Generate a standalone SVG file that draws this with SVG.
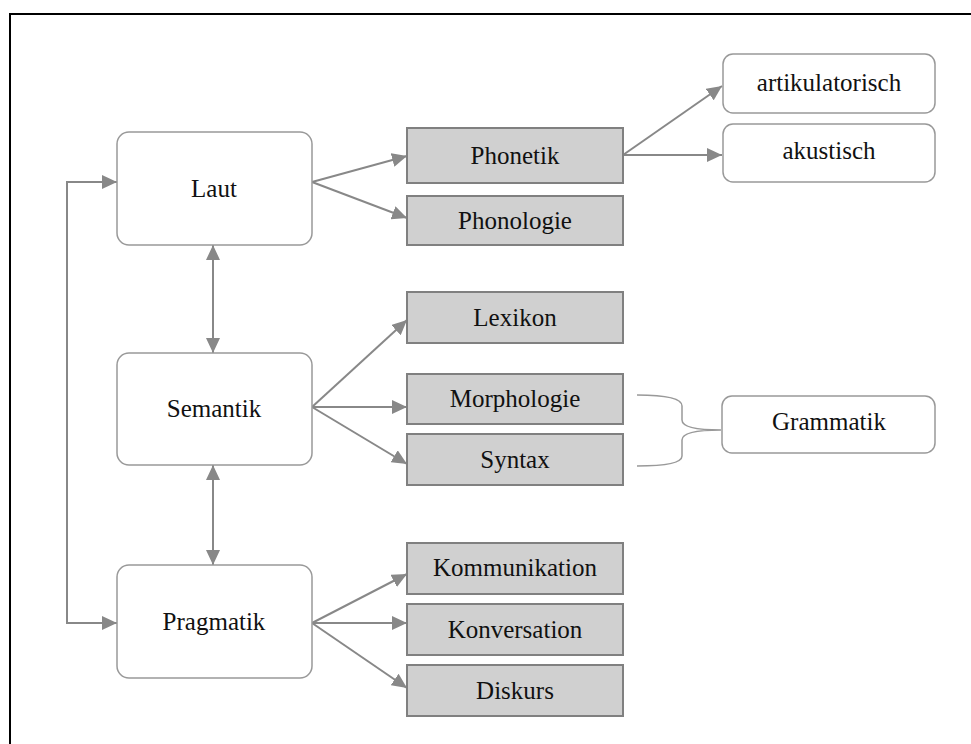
<svg xmlns="http://www.w3.org/2000/svg" width="971" height="744" viewBox="0 0 971 744">
<style>
.bg{fill:#ffffff}
.frame{fill:none;stroke:#000;stroke-width:2}
.main{fill:#fff;stroke:#999;stroke-width:1.5}
.sub{fill:#d0d0d0;stroke:#808080;stroke-width:2}
.leaf{fill:#fff;stroke:#999;stroke-width:1.5}
text{font-family:"Liberation Serif","DejaVu Serif",serif;font-size:25px;fill:#111;text-anchor:middle}
.c{fill:none;stroke:#888;stroke-width:2}
.br{fill:none;stroke:#999;stroke-width:1.5}
</style>
<defs>
<marker id="ah" markerUnits="userSpaceOnUse" markerWidth="16" markerHeight="14" refX="15" refY="7" orient="auto-start-reverse">
<path d="M0,0 L15,7 L0,14 Z" fill="#888"/>
</marker>
</defs>
<rect class="bg" x="0" y="0" width="971" height="744"/>
<rect class="frame" x="10" y="14" width="990" height="800"/>

<g id="connectors">
<line class="c" x1="312" y1="182" x2="407" y2="156" marker-end="url(#ah)"/>
<line class="c" x1="312" y1="182" x2="407" y2="218" marker-end="url(#ah)"/>
<line class="c" x1="623" y1="155" x2="722" y2="86" marker-end="url(#ah)"/>
<line class="c" x1="623" y1="155" x2="722" y2="155" marker-end="url(#ah)"/>
<line class="c" x1="312" y1="407" x2="407" y2="320" marker-end="url(#ah)"/>
<line class="c" x1="312" y1="407" x2="407" y2="407" marker-end="url(#ah)"/>
<line class="c" x1="312" y1="407" x2="407" y2="464" marker-end="url(#ah)"/>
<line class="c" x1="312" y1="623" x2="407" y2="574" marker-end="url(#ah)"/>
<line class="c" x1="312" y1="623" x2="407" y2="623" marker-end="url(#ah)"/>
<line class="c" x1="312" y1="623" x2="407" y2="688" marker-end="url(#ah)"/>
<line class="c" x1="213" y1="245" x2="213" y2="353" marker-start="url(#ah)" marker-end="url(#ah)"/>
<line class="c" x1="213" y1="465" x2="213" y2="565" marker-start="url(#ah)" marker-end="url(#ah)"/>
<polyline class="c" points="117,623 67,623 67,182 117,182" marker-start="url(#ah)" marker-end="url(#ah)"/>
<path class="br" d="M637,395 Q682,395 682,406 L682,420 Q682,430 721,430 Q682,430 682,440 L682,456 Q682,466 637,466"/>
</g>

<g id="laut"><rect class="main" x="117" y="132" width="195" height="113" rx="12"/><text x="214" y="197">Laut</text></g>
<g id="semantik"><rect class="main" x="117" y="353" width="195" height="112" rx="12"/><text x="214" y="417">Semantik</text></g>
<g id="pragmatik"><rect class="main" x="117" y="565" width="195" height="113" rx="12"/><text x="214" y="630">Pragmatik</text></g>

<g id="phonetik"><rect class="sub" x="407" y="128" width="216" height="55"/><text x="515" y="164">Phonetik</text></g>
<g id="phonologie"><rect class="sub" x="407" y="196" width="216" height="49"/><text x="515" y="229">Phonologie</text></g>
<g id="lexikon"><rect class="sub" x="407" y="292" width="216" height="51"/><text x="515" y="326">Lexikon</text></g>
<g id="morphologie"><rect class="sub" x="407" y="374" width="216" height="50"/><text x="515" y="407">Morphologie</text></g>
<g id="syntax"><rect class="sub" x="407" y="434" width="216" height="51"/><text x="515" y="468">Syntax</text></g>
<g id="kommunikation"><rect class="sub" x="407" y="543" width="216" height="51"/><text x="515" y="576">Kommunikation</text></g>
<g id="konversation"><rect class="sub" x="407" y="604" width="216" height="51"/><text x="515" y="638">Konversation</text></g>
<g id="diskurs"><rect class="sub" x="407" y="665" width="216" height="51"/><text x="515" y="699">Diskurs</text></g>

<g id="artikulatorisch"><rect class="leaf" x="723" y="54" width="212" height="59" rx="10"/><text x="829" y="91">artikulatorisch</text></g>
<g id="akustisch"><rect class="leaf" x="723" y="124" width="212" height="58" rx="10"/><text x="829" y="159">akustisch</text></g>
<g id="grammatik"><rect class="leaf" x="722" y="396" width="213" height="57" rx="10"/><text x="829" y="430">Grammatik</text></g>
</svg>
